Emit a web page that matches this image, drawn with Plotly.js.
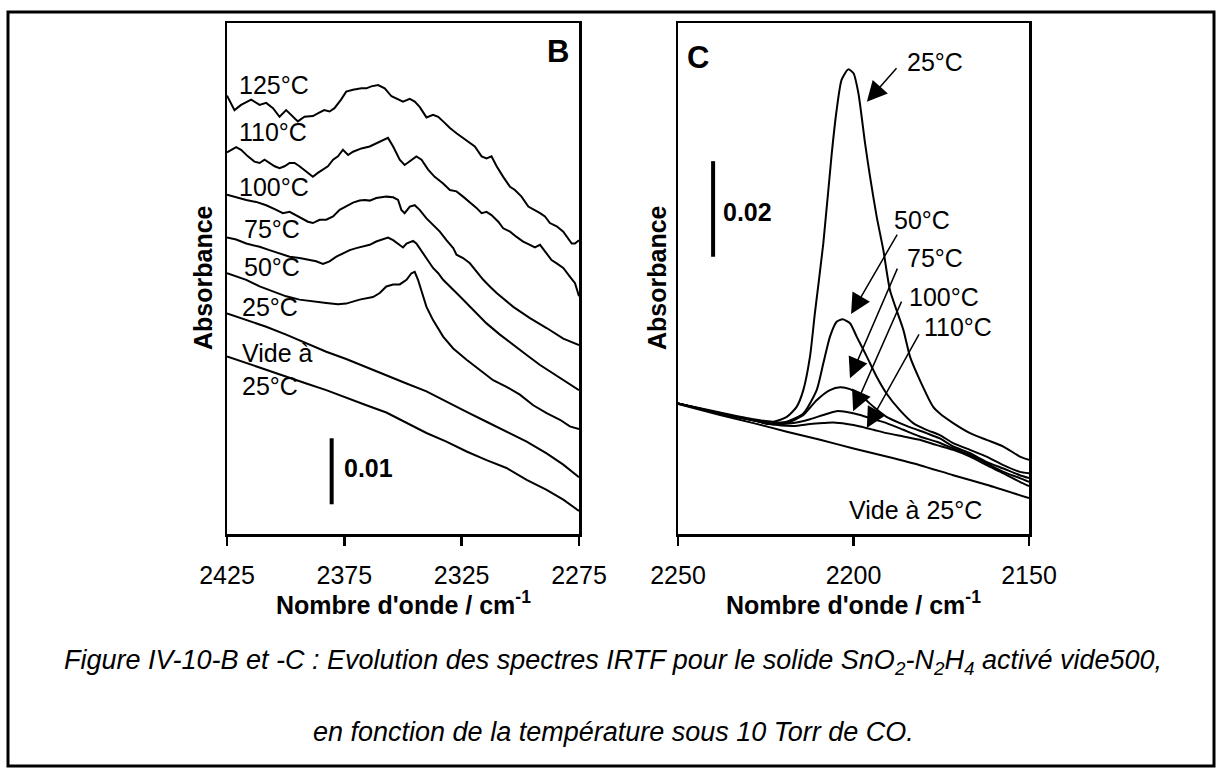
<!DOCTYPE html>
<html>
<head>
<meta charset="utf-8">
<script src="https://cdn.plot.ly/plotly-3.0.1.min.js"></script>
<style>html,body{margin:0;padding:0;background:#fff;}#chart{width:1226px;height:778px;}</style>
</head>
<body>
<div id="chart"></div>
<script>
// ---------- Panel B (CO2 region), absorbance in units of 0.001 ----------
const wnB125 = [2425,2421.8,2419,2414.7,2411.1,2408.3,2405.4,2402.6,2399.8,2397.6,2394.8,2392,2388.4,2386.3,2383.6,2381.3,2379.2,2376.4,2374.2,2371.3,2367.7,2365.6,2363.5,2360.6,2357.8,2354.9,2352.1,2350,2347.1,2345,2342.9,2340,2337.2,2335,2332.9,2330,2327.2,2324.4,2321.5,2319.4,2316.5,2314.4,2312.3,2310.1,2307.3,2304.4,2302.3,2299.5,2296.6,2293.8,2291.6,2289.5,2287.4,2284.5,2281.7,2278.1,2276.7,2275];
const aB125  = [66.4,64.2,65.0,65.8,65.0,65.3,64.5,63.2,64.2,63.5,62.5,63.2,63.3,63.7,64.2,64.0,64.5,65.8,67.0,67.3,67.5,67.5,67.8,68.0,67.5,66.3,65.8,65.5,65.9,65.5,64.7,63.1,63.5,63.2,62.5,61.5,60.7,60.0,59.2,58.7,57.2,56.9,57.2,55.7,54.1,52.6,52.1,51.1,49.6,49.1,48.6,48.1,47.1,46.6,45.8,44.0,44.0,44.5];

const wnB110 = [2425,2421.1,2419.0,2416.1,2413.3,2411.1,2409.0,2406.9,2404.7,2402.6,2400.5,2398.3,2396.2,2394.1,2390.5,2388.4,2386.3,2384.1,2382.0,2379.8,2377.7,2375.6,2373.4,2371.3,2367.7,2364.2,2361.4,2358.5,2356.4,2354.2,2351.4,2349.3,2346.4,2344.3,2342.1,2339.3,2336.5,2332.9,2330.0,2327.2,2324.4,2321.5,2318.7,2316.5,2314.4,2312.3,2309.4,2307.3,2304.4,2301.6,2298.8,2295.9,2293.8,2291.6,2288.8,2286.7,2284.5,2281.7,2278.9,2276.7,2275];
const aB110  = [57.8,58.6,58.2,57.2,56.4,56.2,56.7,56.2,55.7,55.4,55.7,56.2,56.2,55.7,54.7,54.1,54.7,55.2,55.7,56.7,57.2,58.2,57.4,57.9,58.4,58.7,59.2,59.6,60.0,58.7,56.7,55.9,56.7,57.2,56.7,55.2,54.1,53.1,52.1,51.9,51.1,50.3,49.4,48.6,48.8,48.3,47.3,46.3,45.8,45.0,44.3,43.8,43.4,43.8,42.5,41.5,41.0,40.3,39.0,38.0,36.0];

const wnB100 = [2425,2421.1,2416.8,2412.6,2408.3,2404.0,2401.2,2398.3,2395.5,2392.6,2390.5,2388.4,2385.5,2382.7,2379.8,2377.0,2374.2,2371.3,2368.5,2366.3,2364.2,2361.4,2357.1,2354.2,2352.1,2350.7,2349.3,2347.1,2345.0,2342.9,2340.0,2337.2,2334.3,2331.5,2328.6,2327.2,2324.4,2321.5,2318.7,2315.8,2313.0,2310.1,2303.0,2295.9,2288.8,2281.7,2275];
const aB100  = [51.4,51.0,50.6,50.3,49.8,49.1,48.6,48.8,48.3,47.8,47.3,47.1,47.6,47.6,48.1,49.1,49.6,50.2,50.5,50.6,50.5,50.9,51.1,51.0,50.6,49.1,48.6,49.6,49.8,49.1,47.8,46.8,45.8,44.5,43.3,42.3,41.8,41.0,39.7,38.5,37.5,36.5,34.4,32.7,31.2,29.6,28.6];

const wnB75 = [2425,2421.1,2416.8,2411.1,2406.9,2402.6,2398.3,2394.1,2389.8,2387.0,2384.1,2381.3,2378.4,2375.6,2372.7,2369.9,2367.0,2364.2,2361.4,2358.5,2356.4,2354.2,2351.4,2350.0,2348.5,2345.7,2344.3,2342.9,2340.0,2337.2,2335.0,2332.9,2325.8,2320.1,2314.4,2308.7,2303.0,2297.3,2291.6,2286.0,2280.3,2275];
const aB75  = [44.9,44.6,44.0,43.5,43.0,42.5,42.0,41.8,41.5,41.3,40.9,41.3,42.0,42.5,43.0,43.3,43.5,43.8,44.3,44.6,44.9,44.5,43.8,43.4,44.0,44.4,44.0,43.3,41.8,40.3,39.5,38.5,36.0,33.9,31.9,30.2,28.6,27.1,25.6,24.3,23.1,21.8];

const wnB50 = [2425,2421.1,2416.8,2411.1,2405.4,2399.8,2394.1,2388.4,2382.7,2377.7,2374.2,2368.5,2362.8,2359.9,2357.1,2354.2,2351.4,2348.5,2346.4,2345.0,2343.6,2340.0,2337.2,2332.9,2328.6,2322.9,2317.2,2311.6,2305.9,2300.2,2294.5,2288.8,2283.1,2278.9,2275];
const aB50  = [39.5,39.0,38.5,37.5,36.7,36.0,35.5,35.2,35.0,34.8,34.9,35.5,35.9,36.5,37.5,37.8,37.8,38.5,39.5,39.7,38.5,34.4,32.4,29.9,28.1,26.4,24.8,23.3,22.3,21.1,19.5,18.3,17.3,16.3,15.9];

const wnB25 = [2425,2416.8,2408.3,2399.8,2391.2,2382.7,2374.2,2365.6,2357.1,2348.5,2340.0,2331.5,2322.9,2314.4,2305.9,2297.3,2288.8,2281.7,2275];
const aB25  = [33.4,32.4,31.4,30.2,28.9,27.6,26.5,25.3,24.1,22.8,21.6,20.0,18.5,17.0,15.5,14.0,12.2,10.5,8.6];
const aBvide = [26.9,25.9,24.8,23.8,22.8,21.8,20.6,19.5,18.4,16.8,15.3,14.0,12.5,11.2,10.0,8.2,6.7,5.2,3.5];

// scale bar B: 10 units = 0.01
const barBwn = [2380.4, 2380.4];
const barBa  = [4.5, 14.5];

// ---------- Panel C (CO region) ----------
const wnC25 = [2250,2238.0,2228.5,2222.8,2219.0,2216.2,2214.3,2212.4,2211.0,2208.6,2206.2,2204.8,2203.4,2201.5,2200.0,2198.6,2196.7,2195.3,2193.4,2191.5,2189.6,2185.8,2183.9,2181.1,2177.3,2175.4,2171.6,2166.8,2162.1,2157.3,2152.6,2150];
const aC25  = [27.3,25.4,24.0,23.5,24.5,26.6,30.1,37.1,46.2,60.8,79.6,88.7,95.0,97.2,96.4,92.2,81.7,74.8,66.4,59.4,51.0,42.7,37.1,32.2,26.6,25.2,23.2,21.1,19.7,18.3,16.2,15.5];

const wnC50 = [2250,2238.0,2228.5,2223.8,2219.0,2214.3,2210.5,2208.6,2206.7,2204.8,2203.1,2201.0,2199.1,2196.2,2193.4,2190.6,2186.8,2183.0,2179.2,2175.4,2171.6,2166.8,2162.1,2157.3,2152.6,2150];
const aC50  = [27.3,25.2,23.8,23.2,23.5,25.2,30.1,35.7,41.3,44.4,44.9,44.1,41.3,37.1,32.9,29.4,25.9,23.2,21.8,20.7,19.0,17.6,16.2,14.4,13.0,12.7];

const wnC75 = [2250,2238.0,2228.5,2223.8,2219.0,2214.3,2210.5,2206.7,2203.8,2201.0,2198.1,2194.3,2190.6,2186.8,2183.0,2179.2,2175.4,2171.6,2166.8,2162.1,2157.3,2152.6,2150];
const aC75  = [27.3,25.2,23.8,23.0,23.2,24.9,28.0,30.1,30.7,30.3,29.1,26.6,24.5,23.2,22.1,21.1,20.0,18.3,16.9,15.1,13.7,12.3,11.7];

const wnC100 = [2250,2238.0,2228.5,2223.8,2217.1,2212.4,2208.6,2204.8,2201.9,2198.1,2194.3,2190.6,2185.8,2181.1,2176.3,2171.6,2166.8,2162.1,2157.3,2152.6,2150];
const aC100  = [27.3,25.2,23.8,23.0,23.2,24.0,24.9,25.7,25.5,24.9,24.0,23.2,21.8,20.4,19.3,17.9,16.5,14.8,13.0,11.7,10.9];

const wnC110 = [2250,2238.0,2228.5,2223.8,2217.1,2212.4,2208.6,2205.7,2201.9,2198.1,2194.3,2190.6,2185.8,2181.1,2176.3,2171.6,2166.8,2162.1,2157.3,2152.6,2150];
const aC110  = [27.3,25.2,23.8,23.0,22.6,23.0,23.2,23.3,23.0,22.5,21.8,21.1,20.4,19.7,18.6,17.6,16.2,14.4,12.7,10.9,10.0];

const wnCvide = [2250,2238.0,2228.5,2219.0,2209.5,2200.0,2190.6,2181.1,2171.6,2162.1,2150];
const aCvide  = [27.2,24.9,23.2,21.4,19.7,17.9,16.2,14.4,12.3,10.3,7.5];

// scale bar C: 20 units = 0.02
const barCwn = [2240.0, 2240.0];
const barCa  = [58, 78];

// tick labels
const ticksB = [2425, 2375, 2325, 2275];
const ticksC = [2250, 2200, 2150];

// labels in panel B
const labelsB = ["125°C","110°C","100°C","75°C","50°C","25°C","Vide à","25°C"];

// arrow annotations panel C: label, arrow tip (wn, absorbance)
const arrowLabelsC = ["25°C","50°C","75°C","100°C","110°C"];
const arrowTipWn   = [2196.2, 2200.7, 2201.0, 2200.1, 2196.2];
const arrowTipA    = [90.4, 46.0, 32.6, 25.7, 22.2];

// ---------- drawing ----------
const W = 1226, H = 778;
const PX = x => x / W;
const PY = y => 1 - y / H;
const FONT = "'Liberation Sans', Arial, Helvetica, sans-serif";
const lineStyle = {color: '#000', width: 2};

function tr(x, y, xa, ya, shape) {
  return {x: x, y: y, xaxis: xa, yaxis: ya, type: 'scatter', mode: 'lines',
          line: Object.assign({}, lineStyle, shape ? {shape: shape, smoothing: 0.6} : {}),
          hoverinfo: 'skip', showlegend: false};
}

const data = [
  tr(wnB125, aB125, 'x', 'y'),
  tr(wnB110, aB110, 'x', 'y'),
  tr(wnB100, aB100, 'x', 'y'),
  tr(wnB75, aB75, 'x', 'y'),
  tr(wnB50, aB50, 'x', 'y'),
  tr(wnB25, aB25, 'x', 'y'),
  tr(wnB25, aBvide, 'x', 'y'),
  {x: barBwn, y: barBa, xaxis: 'x', yaxis: 'y', mode: 'lines', line: {color: '#000', width: 4}, hoverinfo: 'skip', showlegend: false},
  tr(wnC25, aC25, 'x2', 'y2', 'spline'),
  tr(wnC50, aC50, 'x2', 'y2', 'spline'),
  tr(wnC75, aC75, 'x2', 'y2', 'spline'),
  tr(wnC100, aC100, 'x2', 'y2', 'spline'),
  tr(wnC110, aC110, 'x2', 'y2', 'spline'),
  tr(wnCvide, aCvide, 'x2', 'y2', 'spline'),
  {x: barCwn, y: barCa, xaxis: 'x2', yaxis: 'y2', mode: 'lines', line: {color: '#000', width: 4}, hoverinfo: 'skip', showlegend: false}
];

const yDom = [1 - 534 / H, 1 - 23 / H];
const xAxisBase = {
  showline: true, linecolor: '#000', linewidth: 2.5, mirror: true,
  ticks: 'outside', ticklen: 9, tickwidth: 2.5, tickcolor: '#000',
  showgrid: false, zeroline: false, fixedrange: true,
  tickfont: {family: FONT, size: 25, color: '#000'}, ticklabelstandoff: 8
};
const yAxisBase = {
  showline: true, linecolor: '#000', linewidth: 2.5, mirror: true,
  ticks: '', showticklabels: false, showgrid: false, zeroline: false, fixedrange: true
};

const layout = {
  width: W, height: H,
  margin: {l: 0, r: 0, t: 0, b: 0},
  paper_bgcolor: '#fff', plot_bgcolor: '#fff',
  showlegend: false,
  font: {family: FONT, color: '#000'},
  xaxis: Object.assign({}, xAxisBase, {domain: [227 / W, 579 / W], range: [2425, 2275], tickvals: ticksB, ticktext: ticksB.map(String), anchor: 'y'}),
  yaxis: Object.assign({}, yAxisBase, {domain: yDom, range: [0, 77.4], anchor: 'x'}),
  xaxis2: Object.assign({}, xAxisBase, {domain: [678 / W, 1029 / W], range: [2250, 2150], tickvals: ticksC, ticktext: ticksC.map(String), anchor: 'y2'}),
  yaxis2: Object.assign({}, yAxisBase, {domain: yDom, range: [0, 106.9], anchor: 'x2'}),
  shapes: [
    {type: 'rect', xref: 'paper', yref: 'paper', x0: PX(8), x1: PX(1214), y0: PY(766), y1: PY(12), line: {color: '#000', width: 3}}
  ],
  annotations: []
};

function txt(text, x, y, opts) {
  return Object.assign({
    text: text, xref: 'paper', yref: 'paper', x: PX(x), y: PY(y),
    xanchor: 'left', yanchor: 'middle', showarrow: false,
    font: {family: FONT, size: 25, color: '#000'}
  }, opts || {});
}

const bLabelPos = [[237,85],[237,132],[237,187],[242,229],[242,267],[240,307],[240,353],[240,386]];
labelsB.forEach((t, i) => layout.annotations.push(txt(t, bLabelPos[i][0], bLabelPos[i][1])));

const cLabelPos = [[905,62],[892,220],[905,258],[907,297],[922,327]];
arrowLabelsC.forEach((t, i) => layout.annotations.push(txt(t, cLabelPos[i][0], cLabelPos[i][1])));
layout.annotations.push(txt('Vide à 25°C', 847, 510));

const arrowTail = [[31,-35],[47,-81],[48,-111],[49,-111],[53,-95]];
arrowLabelsC.forEach((t, i) => layout.annotations.push({
  text: '', xref: 'x2', yref: 'y2', x: arrowTipWn[i], y: arrowTipA[i],
  ax: arrowTail[i][0], ay: arrowTail[i][1], axref: 'pixel', ayref: 'pixel',
  showarrow: true, arrowhead: 2, arrowsize: 2.7, arrowwidth: 1.5, arrowcolor: '#000', standoff: 0, startstandoff: 0
}));

// panel letters, scale-bar values
layout.annotations.push(txt('<b>B</b>', 558, 52, {xanchor: 'center', font: {family: FONT, size: 31, color: '#000'}}));
layout.annotations.push(txt('<b>C</b>', 698, 57, {xanchor: 'center', font: {family: FONT, size: 31, color: '#000'}}));
layout.annotations.push(txt('<b>0.01</b>', 342, 468));
layout.annotations.push(txt('<b>0.02</b>', 721, 212));

// axis titles
layout.annotations.push(txt('<b>Absorbance</b>', 203, 278, {xanchor: 'center', textangle: -90}));
layout.annotations.push(txt('<b>Absorbance</b>', 657, 278, {xanchor: 'center', textangle: -90}));
layout.annotations.push(txt("<b>Nombre d'onde / cm<sup>-1</sup></b>", 403, 603, {xanchor: 'center'}));
layout.annotations.push(txt("<b>Nombre d'onde / cm<sup>-1</sup></b>", 853, 603, {xanchor: 'center'}));

// caption
const cap1 = '<i>Figure IV-10-B et -C : Evolution des spectres IRTF pour le solide SnO<sub>2</sub>-N<sub>2</sub>H<sub>4</sub> activé vide500,</i>';
const cap2 = '<i>en fonction de la température sous 10 Torr de CO.</i>';
layout.annotations.push(txt(cap1, 613, 662, {xanchor: 'center', font: {family: FONT, size: 27, color: '#000'}}));
layout.annotations.push(txt(cap2, 613, 732, {xanchor: 'center', font: {family: FONT, size: 27, color: '#000'}}));

Plotly.newPlot('chart', data, layout, {staticPlot: true, displayModeBar: false});
</script>
</body>
</html>
